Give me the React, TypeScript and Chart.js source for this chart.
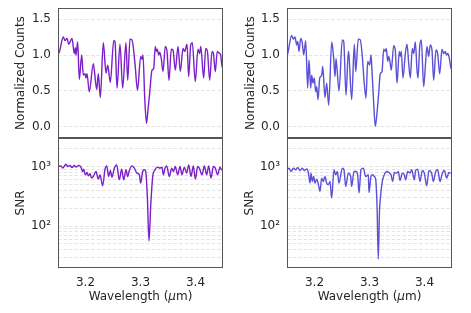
import React, { useEffect, useRef } from 'react';
import { Chart, registerables } from 'chart.js';

Chart.register(...registerables);

// ---------- data ----------
const wlCountsLeft = [
  3.15, 3.1524, 3.1596, 3.1627, 3.1664, 3.1695, 3.1755, 3.1796, 3.1815, 3.1827, 3.1858, 3.1887,
  3.1931, 3.196, 3.1991, 3.2009, 3.2027, 3.2069, 3.2142, 3.216, 3.2204, 3.2233, 3.2269, 3.2324,
  3.2373, 3.2404, 3.2451, 3.2513, 3.2536, 3.2573, 3.2627, 3.2676, 3.2736, 3.2767, 3.2809, 3.2845,
  3.29, 3.2945, 3.3004, 3.3027, 3.3045, 3.3076, 3.3109, 3.3136, 3.3167, 3.3209, 3.324, 3.3269,
  3.3287, 3.3305, 3.3331, 3.3349, 3.3378, 3.3409, 3.3451, 3.3482, 3.3518, 3.356, 3.3591, 3.3633,
  3.3682, 3.3724, 3.3773, 3.3804, 3.3845, 3.3876, 3.3913, 3.3942, 3.3996, 3.4045, 3.4076, 3.4095,
  3.4149, 3.4185, 3.4215, 3.4258, 3.43, 3.4324, 3.436, 3.4396, 3.4422, 3.444, 3.4458, 3.4487, 3.45,
];
const countsLeft = [
  1.01, 1.04, 1.25, 1.2, 1.23, 1.15, 1.23, 1.02, 1.1, 1.0, 1.18, 0.66,
  1.0, 0.72, 0.74, 0.68, 0.74, 0.49, 0.88, 0.79, 0.52, 0.74, 0.41, 1.17,
  0.75, 0.86, 0.62, 1.2, 1.19, 0.54, 1.15, 0.54, 1.17, 0.65, 1.22, 1.21,
  0.88, 0.51, 0.98, 0.94, 1.0, 0.42, 0.05, 0.24, 0.47, 0.79, 0.81, 1.12,
  1.05, 1.08, 1.0, 1.04, 0.95, 0.77, 1.12, 1.05, 0.65, 1.08, 1.07, 0.79,
  1.12, 0.77, 1.09, 1.05, 1.15, 0.7, 1.14, 1.17, 0.63, 1.08, 1.02, 1.12,
  0.68, 1.09, 1.06, 0.65, 1.05, 1.03, 0.77, 1.05, 1.03, 1.02, 1.0, 0.82, 0.82,
];

const wlCountsRight = [
  3.15, 3.1513, 3.1585, 3.1615, 3.1645, 3.1676, 3.1695, 3.1718, 3.1749, 3.1778, 3.1804, 3.184,
  3.1876, 3.19, 3.1931, 3.1949, 3.1973, 3.1996, 3.2022, 3.204, 3.2064, 3.2095, 3.2131, 3.2149,
  3.2191, 3.2222, 3.2258, 3.2313, 3.2349, 3.2373, 3.2391, 3.2445, 3.2505, 3.2531, 3.2573, 3.2615,
  3.2627, 3.2676, 3.2724, 3.2749, 3.2796, 3.2833, 3.2869, 3.29, 3.2936, 3.2967, 3.3004, 3.3027,
  3.3045, 3.3076, 3.3105, 3.3136, 3.3167, 3.3196, 3.3227, 3.3258, 3.3287, 3.3305, 3.3331, 3.3349,
  3.3378, 3.3396, 3.344, 3.3469, 3.35, 3.3542, 3.356, 3.3578, 3.3609, 3.3651, 3.3682, 3.3713,
  3.3742, 3.3778, 3.3804, 3.3833, 3.3864, 3.3882, 3.3913, 3.3942, 3.3985, 3.4015, 3.4045, 3.4076,
  3.4105, 3.4136, 3.4167, 3.4209, 3.424, 3.4276, 3.4318, 3.4349, 3.4378, 3.4396, 3.4422, 3.4445,
  3.4482, 3.45,
];
const countsRight = [
  1.0, 1.02, 1.27, 1.22, 1.25, 1.14, 1.19, 1.05, 1.23, 1.17, 1.0, 1.2,
  0.54, 0.93, 0.54, 0.72, 0.61, 0.68, 0.49, 0.56, 0.38, 0.68, 0.72, 0.84,
  0.41, 0.61, 0.3, 1.18, 0.95, 0.7, 0.95, 0.5, 1.21, 1.19, 0.44, 1.05,
  1.0, 0.38, 1.15, 0.77, 1.22, 1.21, 0.98, 0.65, 0.4, 0.91, 0.86, 1.0,
  0.79, 0.33, 0.01, 0.19, 0.47, 0.74, 0.77, 1.08, 1.05, 1.09, 0.91, 0.98,
  0.88, 0.79, 1.13, 1.07, 0.61, 1.05, 0.98, 1.05, 0.68, 1.02, 1.15, 0.88,
  0.68, 1.09, 1.02, 1.18, 0.79, 0.68, 1.12, 1.21, 0.56, 0.84, 1.12, 0.98,
  1.14, 1.07, 0.65, 1.07, 1.02, 0.74, 1.08, 1.02, 1.05, 1.0, 1.02, 0.98,
  0.82, 0.8,
];

const wlSnrLeft = [
  3.1494, 3.1555, 3.1585, 3.1645, 3.1676, 3.1718, 3.1755, 3.1797, 3.1827, 3.1876, 3.1918, 3.1948,
  3.1967, 3.1997, 3.2027, 3.2051, 3.2082, 3.2112, 3.2142, 3.2191, 3.2233, 3.2264, 3.2312, 3.2355,
  3.2385, 3.2421, 3.2452, 3.2482, 3.2524, 3.2567, 3.2615, 3.2658, 3.2694, 3.2736, 3.2767, 3.2797,
  3.2845, 3.2888, 3.2936, 3.2979, 3.3003, 3.3039, 3.307, 3.3095, 3.3124, 3.3155, 3.3185, 3.3222,
  3.3263, 3.3312, 3.3354, 3.3391, 3.3415, 3.3445, 3.3476, 3.3524, 3.3567, 3.3597, 3.3633, 3.3676,
  3.3718, 3.3754, 3.3797, 3.3839, 3.3876, 3.3918, 3.3961, 3.3997, 3.404, 3.407, 3.4118, 3.4161,
  3.4203, 3.424, 3.4282, 3.4324, 3.4361, 3.4403, 3.4446, 3.4476, 3.4512,
];
const snrLeft = [
  1000, 1027, 938, 1094, 1000, 1040, 963, 1040, 975, 1040, 975, 824,
  903, 724, 793, 698, 754, 638, 680, 824, 614, 726, 474, 903,
  1027, 680, 857, 662, 938, 1067, 598, 903, 598, 880, 680, 857,
  1027, 938, 773, 726, 526, 824, 880, 830, 316, 56, 214, 676,
  880, 975, 938, 975, 726, 938, 1027, 680, 938, 824, 1000, 726,
  1000, 726, 975, 773, 1067, 680, 1027, 614, 1000, 938, 726, 1027,
  726, 1027, 638, 1000, 938, 726, 975, 880, 938,
];

const wlSnrRight = [
  3.1494, 3.1536, 3.1573, 3.1615, 3.1658, 3.1694, 3.1736, 3.1779, 3.1815, 3.1858, 3.1888, 3.1918,
  3.1936, 3.1961, 3.1985, 3.2009, 3.2039, 3.207, 3.21, 3.213, 3.216, 3.2191, 3.2221, 3.2251,
  3.2282, 3.2312, 3.2355, 3.2385, 3.2415, 3.2445, 3.2506, 3.2536, 3.2567, 3.2615, 3.2658, 3.2676,
  3.2718, 3.2755, 3.2785, 3.2809, 3.2845, 3.2888, 3.293, 3.2979, 3.2991, 3.3027, 3.3058, 3.3088,
  3.3113, 3.3138, 3.316, 3.3182, 3.3203, 3.3233, 3.3269, 3.3312, 3.3354, 3.3391, 3.3421, 3.3451,
  3.3494, 3.3524, 3.3554, 3.3597, 3.3633, 3.3658, 3.3694, 3.3736, 3.3767, 3.3815, 3.3839, 3.3876,
  3.3918, 3.3961, 3.3997, 3.404, 3.4082, 3.413, 3.4161, 3.4203, 3.424, 3.4282, 3.4324, 3.4361,
  3.4403, 3.4446, 3.4476,
];
const snrRight = [
  857, 938, 824, 938, 880, 963, 857, 938, 857, 914, 794, 526,
  773, 561, 680, 526, 614, 506, 381, 638, 561, 680, 526, 493,
  561, 294, 880, 726, 824, 526, 938, 880, 462, 773, 680, 462,
  824, 824, 726, 357, 880, 938, 680, 726, 366, 680, 726, 680,
  600, 200, 28, 180, 330, 561, 726, 824, 794, 726, 561, 794,
  773, 824, 582, 773, 726, 598, 824, 773, 880, 598, 857, 903,
  561, 857, 773, 474, 857, 773, 561, 824, 880, 561, 773, 857,
  638, 794, 773,
];

const wlTicks = [3.2, 3.3, 3.4];
const wlTickLabels = ['3.2', '3.3', '3.4'];
const countTicks = [0, 0.5, 1.0, 1.5];
const countTickLabels = ['0.0', '0.5', '1.0', '1.5'];
const snrTicks = [
  20, 30, 40, 50, 60, 70, 80, 90, 100, 200, 300, 400, 500, 600, 700, 800, 900, 1000, 2000, 3000,
];
const snrMajor = [100, 1000];
const snrMajorLabels = ['10²', '10³'];

// ---------- styling ----------
const FONT = '"DejaVu Sans", Verdana, sans-serif';
const TEXT = '#262626';
const FRAME = '#555555';
const GRID = '#dddddd';
const LEFT_COLOR = '#7b1fc9';
const RIGHT_COLOR = '#5b50d6';

const panelPlugin = {
  id: 'panelText',
  afterDatasetsDraw(chart: any) {
    const { ctx, chartArea } = chart;
    const { left, top, right, bottom } = chartArea;
    ctx.save();
    ctx.strokeStyle = FRAME;
    ctx.lineWidth = 1;
    ctx.strokeRect(Math.round(left) + 0.5, Math.round(top) + 0.5, Math.round(right - left) - 1, Math.round(bottom - top) - 1);
    ctx.restore();
  },
  afterDraw(chart: any, _args: any, opts: any) {
    const { ctx, chartArea } = chart;
    ctx.save();
    ctx.fillStyle = TEXT;
    ctx.font = `12px ${FONT}`;
    ctx.textAlign = 'center';
    ctx.textBaseline = 'middle';
    ctx.translate(opts.yTitleX, (chartArea.top + chartArea.bottom) / 2);
    ctx.rotate(-Math.PI / 2);
    ctx.fillText(opts.yTitle, 0, 0);
    ctx.restore();
    if (opts.xTitle) {
      ctx.save();
      ctx.fillStyle = TEXT;
      ctx.textBaseline = 'middle';
      ctx.textAlign = 'left';
      const parts: [string, boolean][] = [['Wavelength (', false], ['μ', true], ['m)', false]];
      let total = 0;
      const widths = parts.map(([t, it]) => {
        ctx.font = `${it ? 'italic ' : ''}12px ${FONT}`;
        const w = ctx.measureText(t).width;
        total += w;
        return w;
      });
      let x = (chartArea.left + chartArea.right) / 2 - total / 2;
      parts.forEach(([t, it], i) => {
        ctx.font = `${it ? 'italic ' : ''}12px ${FONT}`;
        ctx.fillText(t, x, opts.xTitleY);
        x += widths[i];
      });
      ctx.restore();
    }
  },
};

type PanelProps = {
  left: number; top: number; w: number; h: number;
  yAxisW: number; padRight: number; padTop: number; padBottom: number; xAxisH: number;
  kind: 'counts' | 'snr';
  xs: number[]; ys: number[]; color: string;
  showX: boolean; yTitle: string; yTitleX: number; xTitleY?: number;
};

function Panel(p: PanelProps) {
  const ref = useRef<HTMLCanvasElement>(null);
  useEffect(() => {
    const canvas = ref.current;
    if (!canvas) return;
    const isSnr = p.kind === 'snr';
    const yTicks = isSnr ? snrTicks : countTicks;
    const chart = new Chart(canvas, {
      type: 'line',
      data: {
        datasets: [{
          data: p.xs.map((x, i) => ({ x, y: p.ys[i] })),
          borderColor: p.color,
          borderWidth: 1.4,
          pointRadius: 0,
          cubicInterpolationMode: 'monotone',
          fill: false,
        }],
      },
      options: {
        responsive: false,
        animation: false,
        devicePixelRatio: 1,
        layout: { padding: { left: 0, right: p.padRight, top: p.padTop, bottom: p.padBottom } },
        plugins: {
          legend: { display: false },
          tooltip: { enabled: false },
          panelText: { yTitle: p.yTitle, yTitleX: p.yTitleX, xTitle: p.showX, xTitleY: p.xTitleY },
        } as any,
        scales: {
          x: {
            type: 'linear',
            min: 3.15,
            max: 3.45,
            display: p.showX,
            afterBuildTicks: (s: any) => { s.ticks = wlTicks.map((v) => ({ value: v })); },
            afterFit: (s: any) => {
              s.height = p.xAxisH;
              s.paddingLeft = 0; s.paddingRight = 0; s.paddingTop = 0; s.paddingBottom = 0;
            },
            ticks: {
              autoSkip: false,
              maxRotation: 0,
              padding: 0,
              color: TEXT,
              font: { family: FONT, size: 12 },
              callback: (v: any) => {
                const i = wlTicks.findIndex((t) => Math.abs(t - Number(v)) < 1e-6);
                return i >= 0 ? wlTickLabels[i] : '';
              },
            },
            grid: { display: false },
            border: { display: false },
          },
          y: {
            type: isSnr ? 'logarithmic' : 'linear',
            min: isSnr ? 19.7 : -0.153,
            max: isSnr ? 3015 : 1.653,
            afterBuildTicks: (s: any) => { s.ticks = yTicks.map((v) => ({ value: v })); },
            afterFit: (s: any) => {
              s.width = p.yAxisW;
              s.paddingLeft = 0; s.paddingRight = 0; s.paddingTop = 0; s.paddingBottom = 0;
            },
            ticks: {
              autoSkip: false,
              padding: 7,
              color: TEXT,
              font: { family: FONT, size: 12 },
              callback: (v: any) => {
                const n = Number(v);
                if (isSnr) {
                  const i = snrMajor.findIndex((t) => Math.abs(t - n) < 1e-6);
                  return i >= 0 ? snrMajorLabels[i] : '';
                }
                const i = countTicks.findIndex((t) => Math.abs(t - n) < 1e-6);
                return i >= 0 ? countTickLabels[i] : '';
              },
            },
            grid: { color: GRID, lineWidth: 0.8, drawTicks: false },
            border: { display: false, dash: [3.5, 2] },
          },
        } as any,
      },
      plugins: [panelPlugin as any],
    });
    return () => chart.destroy();
  }, []);
  return (
    <canvas
      ref={ref}
      width={p.w}
      height={p.h}
      style={{ position: 'absolute', left: p.left, top: p.top, width: p.w, height: p.h }}
    />
  );
}

export default function App() {
  return (
    <div style={{ position: 'absolute', left: 0, top: 0, width: 471, height: 313, background: '#ffffff', overflow: 'hidden' }}>
      <Panel left={0} top={0} w={235} h={140} yAxisW={58} padRight={12} padTop={8} padBottom={2} xAxisH={0}
        kind="counts" xs={wlCountsLeft} ys={countsLeft} color={LEFT_COLOR} showX={false}
        yTitle="Normalized Counts" yTitleX={21} />
      <Panel left={235} top={0} w={236} h={140} yAxisW={52} padRight={19} padTop={8} padBottom={2} xAxisH={0}
        kind="counts" xs={wlCountsRight} ys={countsRight} color={RIGHT_COLOR} showX={false}
        yTitle="Normalized Counts" yTitleX={16} />
      <Panel left={0} top={130} w={235} h={183} yAxisW={58} padRight={12} padTop={8} padBottom={0} xAxisH={45}
        kind="snr" xs={wlSnrLeft} ys={snrLeft} color={LEFT_COLOR} showX={true}
        yTitle="SNR" yTitleX={21} xTitleY={167} />
      <Panel left={235} top={130} w={236} h={183} yAxisW={52} padRight={19} padTop={8} padBottom={0} xAxisH={45}
        kind="snr" xs={wlSnrRight} ys={snrRight} color={RIGHT_COLOR} showX={true}
        yTitle="SNR" yTitleX={15} xTitleY={167} />
    </div>
  );
}
